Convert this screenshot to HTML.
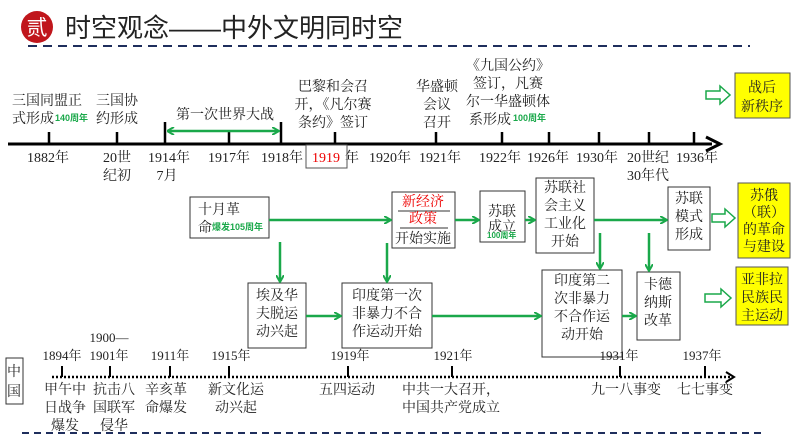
<!DOCTYPE html>
<html><head><meta charset="utf-8"><style>
body{margin:0;background:#fff;}
svg{display:block;font-family:"Liberation Serif","Noto Serif CJK SC",serif;}
.t{font-size:14px;fill:#222;}
.g{font-family:"Liberation Sans","Noto Sans CJK SC",sans-serif;font-size:9px;font-weight:bold;fill:#1aa84a;}
</style></head><body>
<svg width="794" height="447" viewBox="0 0 794 447" xmlns="http://www.w3.org/2000/svg">
<defs>
<marker id="ga" markerWidth="8" markerHeight="8" refX="6" refY="4" orient="auto" markerUnits="userSpaceOnUse"><path d="M0,0 L7,4 L0,8" fill="none" stroke="#1aa84a" stroke-width="2"/></marker>
<marker id="gs" markerWidth="8" markerHeight="8" refX="1" refY="4" orient="auto" markerUnits="userSpaceOnUse"><path d="M7,0 L0,4 L7,8" fill="none" stroke="#1aa84a" stroke-width="2"/></marker>
</defs>
<!-- title -->
<circle cx="37" cy="27" r="16" fill="#c0161c"/>
<text x="37" y="35" font-size="21" fill="#fff" text-anchor="middle" font-family="Liberation Sans,Noto Sans CJK SC,sans-serif">贰</text>
<text x="65" y="37" font-size="26" fill="#222" font-family="Liberation Sans,Noto Sans CJK SC,sans-serif">时空观念——中外文明同时空</text>
<line x1="28" y1="46" x2="750" y2="46" stroke="#1f2e5c" stroke-width="2" stroke-dasharray="9,6"/>

<!-- top axis -->
<line x1="8" y1="144" x2="712" y2="144" stroke="#000" stroke-width="3"/>
<path d="M706,137 L720,144 L706,151" fill="none" stroke="#000" stroke-width="3"/>
<g stroke="#000" stroke-width="2.5">
<line x1="49" y1="132" x2="49" y2="144"/><line x1="117" y1="132" x2="117" y2="144"/><line x1="165" y1="122" x2="165" y2="144"/><line x1="229" y1="132" x2="229" y2="144"/><line x1="281" y1="122" x2="281" y2="144"/><line x1="335" y1="132" x2="335" y2="144"/><line x1="436" y1="132" x2="436" y2="144"/><line x1="502" y1="132" x2="502" y2="144"/><line x1="549" y1="132" x2="549" y2="144"/><line x1="599" y1="132" x2="599" y2="144"/><line x1="649" y1="132" x2="649" y2="144"/><line x1="694" y1="132" x2="694" y2="144"/>
</g>
<g class="t" text-anchor="middle">
<text x="48" y="162">1882年</text>
<text x="117" y="162">20世</text><text x="117" y="180">纪初</text>
<text x="169" y="162">1914年</text><text x="167" y="180">7月</text>
<text x="229" y="162">1917年</text>
<text x="282" y="162">1918年</text>
<text x="352" y="162">年</text>
<text x="390" y="162">1920年</text>
<text x="440" y="162">1921年</text>
<text x="500" y="162">1922年</text>
<text x="548" y="162">1926年</text>
<text x="597" y="162">1930年</text>
<text x="648" y="162">20世纪</text><text x="648" y="180">30年代</text>
<text x="697" y="162">1936年</text>
</g>
<rect x="306" y="145" width="41" height="23" fill="none" stroke="#555"/>
<text x="326" y="162" class="t" fill="#e00" style="fill:#e00" text-anchor="middle">1919</text>

<g class="t">
<text x="12" y="105">三国同盟正</text><text x="12" y="123">式形成</text>
<text x="96" y="105">三国协</text><text x="96" y="123">约形成</text>
<text x="176" y="119">第一次世界大战</text>
</g>
<text x="55" y="121" class="g">140周年</text>
<line x1="168" y1="131" x2="278" y2="131" stroke="#1aa84a" stroke-width="2.5" marker-end="url(#ga)" marker-start="url(#gs)"/>
<g class="t" text-anchor="middle">
<text x="333" y="91">巴黎和会召</text><text x="333" y="109">开，《凡尔赛</text><text x="333" y="127">条约》签订</text>
<text x="437" y="91">华盛顿</text><text x="437" y="109">会议</text><text x="437" y="127">召开</text>
<text x="508" y="70">《九国公约》</text><text x="508" y="88">签订，凡赛</text><text x="508" y="106">尔一华盛顿体</text><text x="490" y="124">系形成</text>
</g>
<text x="513" y="121" class="g">100周年</text>

<!-- yellow boxes -->
<rect x="735" y="73" width="55" height="45" fill="#ffff00" stroke="#555"/>
<text x="762" y="92" class="t" text-anchor="middle">战后</text><text x="762" y="111" class="t" text-anchor="middle">新秩序</text>
<rect x="738" y="183" width="52" height="75" fill="#ffff00" stroke="#555"/>
<g class="t" text-anchor="middle"><text x="764" y="200">苏俄</text><text x="764" y="217">（联）</text><text x="764" y="234">的革命</text><text x="764" y="251">与建设</text></g>
<rect x="736" y="267" width="52" height="58" fill="#ffff00" stroke="#555"/>
<g class="t" text-anchor="middle"><text x="762" y="284">亚非拉</text><text x="762" y="302">民族民</text><text x="762" y="320">主运动</text></g>
<!-- outline arrows -->
<g fill="#fff" stroke="#1aa84a" stroke-width="1.5">
<path d="M706,91 L720,91 L720,86 L730,95 L720,104 L720,99 L706,99 Z"/>
<path d="M712,214 L725,214 L725,209 L735,218 L725,227 L725,222 L712,222 Z"/>
<path d="M705,294 L721,294 L721,289 L731,298 L721,307 L721,302 L705,302 Z"/>
</g>

<!-- middle boxes -->
<g fill="#fff" stroke="#333" stroke-width="1">
<rect x="190" y="197" width="79" height="41"/>
<rect x="392" y="192" width="63" height="56"/>
<rect x="480" y="191" width="45" height="51"/>
<rect x="536" y="178" width="58" height="75"/>
<rect x="668" y="187" width="42" height="63"/>
<rect x="248" y="283" width="58" height="65"/>
<rect x="342" y="283" width="90" height="65"/>
<rect x="542" y="270" width="80" height="87"/>
<rect x="637" y="272" width="43" height="68"/>
</g>
<g class="t">
<text x="198" y="214">十月革</text><text x="198" y="232">命</text>
<text x="502" y="216" text-anchor="middle">苏联</text><text x="502" y="231" text-anchor="middle">成立</text>
</g>
<text x="212" y="230" class="g">爆发105周年</text>
<text x="487" y="238" class="g" style="font-size:8px">100周年</text>
<g class="t" text-anchor="middle">
<text x="423" y="206" style="fill:#e00">新经济</text>
<line x1="398" y1="211" x2="450" y2="211" stroke="#333"/>
<text x="423" y="223" style="fill:#e00">政策</text>
<line x1="400" y1="228" x2="448" y2="228" stroke="#333"/>
<text x="423" y="243">开始实施</text>
<text x="565" y="192">苏联社</text><text x="565" y="210">会主义</text><text x="565" y="228">工业化</text><text x="565" y="246">开始</text>
<text x="689" y="203">苏联</text><text x="689" y="221">模式</text><text x="689" y="239">形成</text>
<text x="277" y="300">埃及华</text><text x="277" y="318">夫脱运</text><text x="277" y="336">动兴起</text>
<text x="387" y="300">印度第一次</text><text x="387" y="318">非暴力不合</text><text x="387" y="336">作运动开始</text>
<text x="582" y="285">印度第二</text><text x="582" y="303">次非暴力</text><text x="582" y="321">不合作运</text><text x="582" y="339">动开始</text>
<text x="658" y="289">卡德</text><text x="658" y="307">纳斯</text><text x="658" y="325">改革</text>
</g>
<g stroke="#1aa84a" stroke-width="2.5" fill="none" marker-end="url(#ga)">
<line x1="269" y1="220" x2="390" y2="220"/>
<line x1="455" y1="220" x2="478" y2="220"/>
<line x1="525" y1="220" x2="534" y2="220"/>
<line x1="594" y1="220" x2="666" y2="220"/>
<line x1="280" y1="242" x2="280" y2="281"/>
<line x1="387" y1="243" x2="387" y2="281"/>
<line x1="600" y1="233" x2="600" y2="268"/>
<line x1="649" y1="233" x2="649" y2="270"/>
<line x1="306" y1="316" x2="340" y2="316"/>
<line x1="432" y1="316" x2="540" y2="316"/>
<line x1="622" y1="316" x2="635" y2="316"/>
</g>

<!-- bottom axis -->
<rect x="6" y="358" width="17" height="46" fill="#fff" stroke="#333"/>
<text x="14" y="376" class="t" text-anchor="middle">中</text><text x="14" y="396" class="t" text-anchor="middle">国</text>
<line x1="52" y1="377" x2="730" y2="377" stroke="#000" stroke-width="2.5" stroke-dasharray="2,2"/>
<path d="M726,372 L734,377 L726,382" fill="none" stroke="#000" stroke-width="2"/>
<g stroke="#000" stroke-width="2"><line x1="62" y1="366" x2="62" y2="377"/><line x1="110" y1="366" x2="110" y2="377"/><line x1="170" y1="366" x2="170" y2="377"/><line x1="229" y1="366" x2="229" y2="377"/><line x1="348" y1="366" x2="348" y2="377"/><line x1="452" y1="366" x2="452" y2="377"/><line x1="620" y1="366" x2="620" y2="377"/><line x1="705" y1="366" x2="705" y2="377"/></g>
<g class="t" text-anchor="middle" style="font-size:13px">
<text x="62" y="360">1894年</text><text x="109" y="342">1900—</text><text x="109" y="360">1901年</text>
<text x="170" y="360">1911年</text><text x="231" y="360">1915年</text><text x="350" y="360">1919年</text>
<text x="453" y="360">1921年</text><text x="619" y="360">1931年</text><text x="702" y="360">1937年</text>
</g>
<g class="t" text-anchor="middle">
<text x="65" y="394">甲午中</text><text x="65" y="412">日战争</text><text x="65" y="430">爆发</text>
<text x="114" y="394">抗击八</text><text x="114" y="412">国联军</text><text x="114" y="430">侵华</text>
<text x="166" y="394">辛亥革</text><text x="166" y="412">命爆发</text>
<text x="236" y="394">新文化运</text><text x="236" y="412">动兴起</text>
<text x="347" y="394">五四运动</text>
<text x="626" y="394">九一八事变</text><text x="705" y="394">七七事变</text>
</g>
<g class="t"><text x="402" y="394">中共一大召开，</text><text x="402" y="412">中国共产党成立</text></g>
<line x1="22" y1="433" x2="762" y2="433" stroke="#1f2e5c" stroke-width="2" stroke-dasharray="7,5"/>
</svg>
</body></html>
